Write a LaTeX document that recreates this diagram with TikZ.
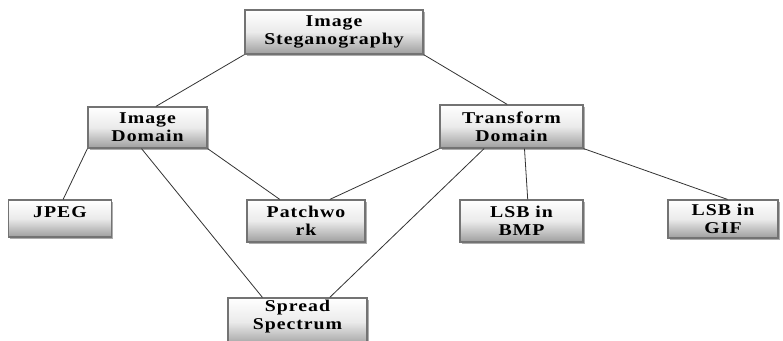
\documentclass[tikz,border=0pt]{standalone}
\usepackage{fontspec}
\setmainfont{Liberation Serif}
\newfontfamily\boxfont{Liberation Serif}[FakeStretch=1.2, LetterSpace=6]
\usetikzlibrary{shadows,calc}
\begin{document}
\begin{tikzpicture}[x=1pt,y=-1pt,
  box/.style={draw=black!55, line width=1.2pt, top color=white, bottom color=black!38,
    middle color=black!8, shading angle=0,
    drop shadow={shadow xshift=1.8pt, shadow yshift=-1.8pt, fill=black!40, opacity=0.8},
    font=\boxfont\fontsize{16.5}{18}\selectfont\bfseries, align=center, inner sep=0pt},
  link/.style={draw=black!80, line width=0.8pt}]
\useasboundingbox (0,0) rectangle (783,340);
\clip (0,0) rectangle (783,340);
\node[box, minimum width=178pt, minimum height=44pt] (steg) at (334,32) {Image\\Steganography};
\node[box, minimum width=119pt, minimum height=41pt] (idom) at (147.5,127.5) {Image\\Domain};
\node[box, minimum width=143pt, minimum height=43pt] (tdom) at (511.5,126.5) {Transform\\Domain};
\node[box, minimum width=103pt, minimum height=37pt, text depth=12pt] (jpeg) at (60,218.5) {JPEG};
\node[box, minimum width=118pt, minimum height=42pt] (patch) at (306,221) {Patchwo\\rk};
\node[box, minimum width=123pt, minimum height=42pt] (bmp) at (521.5,221) {LSB in\\BMP};
\node[box, minimum width=110pt, minimum height=38pt] (gif) at (723,219) {LSB in\\GIF};
\node[box, minimum width=139pt, minimum height=48pt, text depth=14pt] (spread) at (297.5,322) {Spread\\Spectrum};
\draw[link] (steg.south west) -- ($(idom.north west)!0.57!(idom.north east)$);
\draw[link] (steg.south east) -- ($(tdom.north west)!0.47!(tdom.north east)$);
\draw[link] (idom.south west) -- ($(jpeg.north west)!0.53!(jpeg.north east)$);
\draw[link] (idom.south east) -- ($(patch.north west)!0.28!(patch.north east)$);
\draw[link] ($(idom.south west)!0.45!(idom.south east)$) -- ($(spread.north west)!0.25!(spread.north east)$);
\draw[link] (tdom.south west) -- ($(patch.north west)!0.70!(patch.north east)$);
\draw[link] ($(tdom.south west)!0.31!(tdom.south east)$) -- ($(spread.north west)!0.73!(spread.north east)$);
\draw[link] ($(tdom.south west)!0.59!(tdom.south east)$) -- ($(bmp.north west)!0.55!(bmp.north east)$);
\draw[link] (tdom.south east) -- ($(gif.north west)!0.54!(gif.north east)$);
\end{tikzpicture}
\end{document}
